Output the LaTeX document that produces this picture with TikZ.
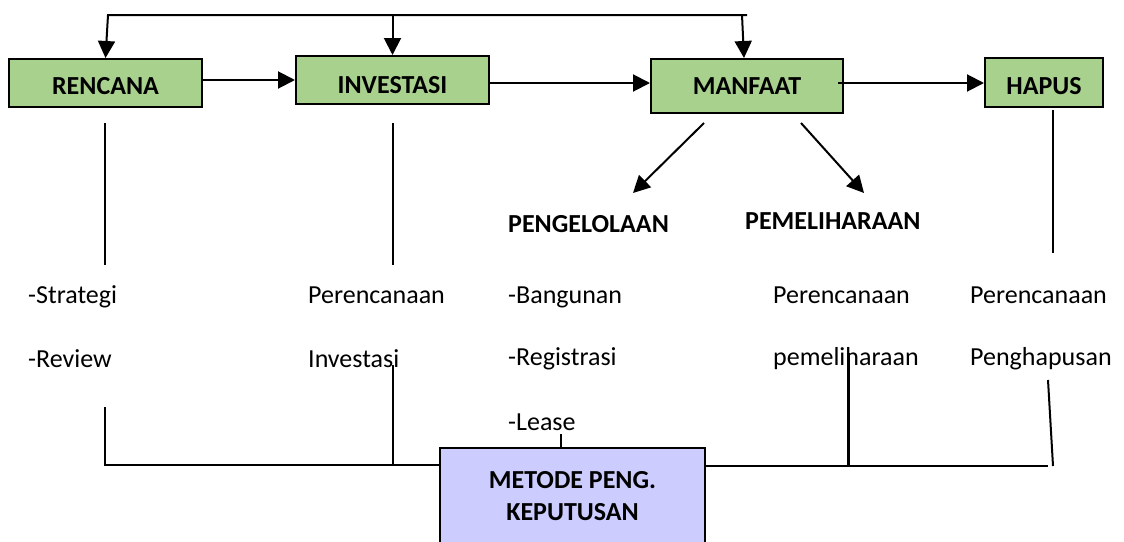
\documentclass[tikz,border=0pt]{standalone}
\usepackage{fontspec}
\setmainfont{Carlito}
\usetikzlibrary{arrows.meta}
\definecolor{boxgreen}{HTML}{A9D18E}
\definecolor{boxblue}{HTML}{CCCCFF}
\begin{document}
\begin{tikzpicture}[x=1pt,y=-1pt,
  conn/.style={line width=2pt},
  thickconn/.style={line width=3pt},
  arr/.style={conn, -{Triangle[width=17pt,length=17pt]}},
  stagebox/.style={draw, line width=2pt, fill=boxgreen, inner sep=0pt,
    font=\fontsize{26}{31}\selectfont\bfseries, text depth=0pt},
  methodbox/.style={draw, line width=2pt, fill=boxblue, inner sep=0pt},
  txt/.style={font=\fontsize{26}{31}\selectfont, inner sep=0pt, anchor=base west},
  headtxt/.style={txt, font=\fontsize{26}{31}\selectfont\bfseries},
  boxtxt/.style={font=\fontsize{26}{32}\selectfont\bfseries, inner sep=0pt, align=center, anchor=base}
]
\useasboundingbox (0,0) rectangle (1124,541);
\clip (0,0) rectangle (1124,541);

% stage boxes
\node[stagebox, minimum width=193pt, minimum height=48pt, text height=23.7pt] (rencana) at (105.5,83) {RENCANA};
\node[stagebox, minimum width=193pt, minimum height=48pt, text height=26.7pt] (investasi) at (392.5,80) {INVESTASI};
\node[stagebox, minimum width=192pt, minimum height=54pt, text height=17.7pt] (manfaat) at (747,86) {MANFAAT};
\node[stagebox, minimum width=118pt, minimum height=49pt, text height=24.7pt] (hapus) at (1044,82.5) {HAPUS};

% decision method box (its base anchor sits on the last line)
\node[methodbox, anchor=north, minimum width=265pt, minimum height=110pt] (metode) at (572.5,447) {};
\node[boxtxt] (metodetxt) at (572.5,520) {METODE PENG.\\KEPUTUSAN};

% feedback loop along the top
\coordinate (topL) at (108,15);
\coordinate (topR) at (747,15);
\coordinate (topM) at (742,15);
\draw[arr] (topR) -- (topL) -- (rencana.north);
\draw[arr] (investasi.north |- topL) -- (investasi.north);
\draw[arr] (topM) -- ([xshift=-3pt]manfaat.north);

% main flow
\draw[arr] (rencana.east |- investasi.west) -- (investasi.west);
\draw[arr] ([yshift=-3pt]investasi.east) -- ([yshift=3pt]manfaat.west);
\draw[arr] ([xshift=-6pt,yshift=3pt]manfaat.east) -- ([yshift=-0.5pt]hapus.west);

% branches of MANFAAT
\coordinate (d1s) at (704,123);
\coordinate (d1e) at (633,193);
\coordinate (d2s) at (801,123);
\coordinate (d2e) at (864,193);
\draw[arr] (d1s) -- (d1e);
\draw[arr] (d2s) -- (d2e);
\node[headtxt] (pengelolaan) at (508,232) {PENGELOLAAN};
\node[headtxt] (pemeliharaan) at (745,229) {PEMELIHARAAN};

% stems below the stage boxes
\coordinate (rs1) at (105,123);
\coordinate (rs2) at (105,265);
\coordinate (is1) at (393,123);
\coordinate (is2) at (393,265);
\coordinate (hs1) at (1053,110);
\coordinate (hs2) at (1053,253);
\draw[conn] (rs1) -- (rs2);
\draw[conn] (is1) -- (is2);
\draw[conn] (hs1) -- (hs2);

% activity texts
\node[txt] (strategi) at (28,303) {-Strategi};
\node[txt] (review) at (28,367) {-Review};
\node[txt] (perinv) at (308,303) {Perencanaan};
\node[txt] (inv) at (308,367) {Investasi};
\node[txt] (bangunan) at (508,303) {-Bangunan};
\node[txt] (registrasi) at (508,365) {-Registrasi};
\node[txt] (lease) at (508,430) {-Lease};
\node[txt] (perpem) at (773,303) {Perencanaan};
\node[txt] (pem) at (773,365) {pemeliharaan};
\node[txt] (perhap) at (970,303) {Perencanaan};
\node[txt] (hap) at (970,365) {Penghapusan};

% links into the decision method box
\coordinate (bl) at (105,465);
\coordinate (rb) at (105,407);
\coordinate (ib) at (393,365);
\coordinate (lb) at (561,434);
\coordinate (br) at (1048,466);
\coordinate (pb) at (848,353);
\coordinate (hb1) at (1048,380);
\coordinate (hb2) at (1053,466);
\draw[conn] (rb) -- (bl) -- (metode.west |- bl);
\draw[conn] (ib) -- (ib |- bl);
\draw[conn] (lb) -- (lb |- metode.north);
\draw[conn] (metode.east |- br) -- (br);
\draw[thickconn] (pb) -- (pb |- br);
\draw[conn] (hb1) -- (hb2);
\end{tikzpicture}
\end{document}
